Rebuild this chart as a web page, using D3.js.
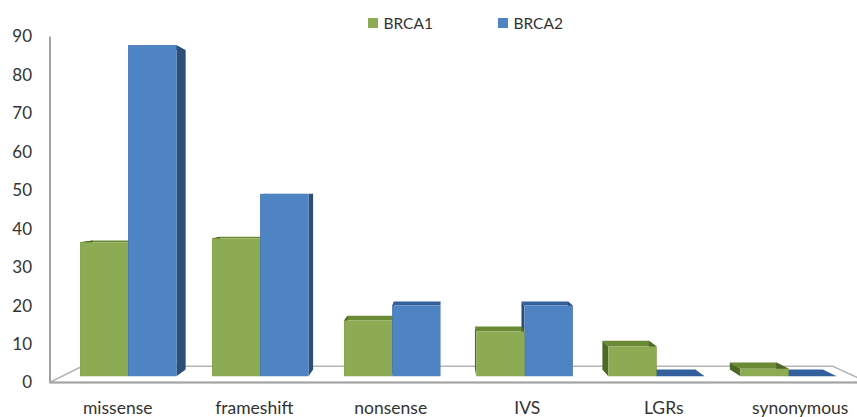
<!DOCTYPE html>
<html><head><meta charset="utf-8">
<script src="https://cdn.jsdelivr.net/npm/d3@7"></script>
<style>
body{margin:0;background:#fff}
svg{display:block}
text{font-family:Lato,"Liberation Sans",sans-serif;fill:#333}
</style>
</head><body>
<svg id="c" width="857" height="417"></svg>
<script>
// ---- data ----
const categories = ["missense","frameshift","nonsense","IVS","LGRs","synonymous"];
const seriesNames = ["BRCA1","BRCA2"];
const brca1 = [36,37,15,12,8,2];
const brca2 = [89,49,19,19,0,0];
const yTicks = [0,10,20,30,40,50,60,70,80,90];

// ---- styles ----
const palette = {
  BRCA1:{front:"#8dab52", top:"#6b8a36", side:"#4e6826", legend:"#8dab52"},
  BRCA2:{front:"#4f84c4", top:"#33609c", side:"#2e4e7a", legend:"#4f84c4"}
};

const svg = d3.select("#c");

const x = d3.scaleBand().domain(categories).range([49.5,868.5]).paddingInner(0.27).paddingOuter(0.135);
const xs = d3.scaleBand().domain(seriesNames).range([0,x.bandwidth()]);
const y = d3.scaleLinear().domain([0,90]).range([382.5,36.5]);

// simple perspective
const VP = [440,188], K = 0.0835, ZF = 0.39, ZB = 0.795;
const proj = (px,py,z)=>{const s=1-K*z;return [VP[0]+(px-VP[0])*s, VP[1]+(py-VP[1])*s];};
const pts = a => a.map(p=>p.join(",")).join(" ");

// floor
const fx0 = x.range()[0], fx1 = x.range()[1], fy = y(0);
svg.append("polygon")
  .attr("points", pts([proj(fx0,fy,0),proj(fx1,fy,0),proj(fx1,fy,1),proj(fx0,fy,1)]))
  .attr("fill","#fff").attr("stroke","#b5b5b5").attr("stroke-width",1.6);
const f0 = proj(fx0,fy,0), f1 = proj(fx1,fy,0);
svg.append("line").attr("x1",f0[0]).attr("y1",f0[1]).attr("x2",f1[0]).attr("y2",f1[1])
  .attr("stroke","#a3a3a3").attr("stroke-width",2.2);

// bars
const bars = [];
categories.forEach((c,i)=>{
  [[ "BRCA1", brca1[i] ], [ "BRCA2", brca2[i] ]].forEach(([s,v])=>{
    const x0 = x(c)+xs(s), x1 = x0+xs.bandwidth();
    bars.push({c,s,v,x0,x1,yT:y(v),yB:y(0)});
  });
});
bars.forEach(b=>{ b.dist = Math.abs(proj((b.x0+b.x1)/2,0,ZF)[0]-VP[0]); });
bars.sort((a,b)=>b.dist-a.dist);

const gBars = svg.append("g");
bars.forEach(b=>{
  const g = gBars.append("g");
  const col = palette[b.s];
  const {x0,x1,yT,yB} = b;
  g.append("polygon").attr("points",pts([proj(x0,yT,ZF),proj(x1,yT,ZF),proj(x1,yT,ZB),proj(x0,yT,ZB)])).attr("fill",col.top);
  g.append("polygon").attr("points",pts([proj(x0,yT,ZF),proj(x0,yT,ZB),proj(x0,yB,ZB),proj(x0,yB,ZF)])).attr("fill",col.side);
  g.append("polygon").attr("points",pts([proj(x1,yT,ZF),proj(x1,yT,ZB),proj(x1,yB,ZB),proj(x1,yB,ZF)])).attr("fill",col.side);
  if (b.v>0) g.append("polygon").attr("points",pts([proj(x0,yT,ZF),proj(x1,yT,ZF),proj(x1,yB,ZF),proj(x0,yB,ZF)])).attr("fill",col.front);
});

// y axis
const ax = svg.append("g").attr("transform","translate(50,0)")
  .call(d3.axisLeft(y).tickValues(yTicks).tickSize(0).tickPadding(18));
ax.select(".domain").remove();
ax.selectAll("text").style("font-size","17px").style("font-family","Lato, 'Liberation Sans', sans-serif").attr("fill","#333");
svg.append("line").attr("x1",50).attr("x2",50).attr("y1",y(0)).attr("y2",y(90))
  .attr("stroke","#a3a3a3").attr("stroke-width",2);

// x labels
svg.append("g").selectAll("text").data(categories).join("text")
  .attr("x",d=>x(d)+x.bandwidth()/2).attr("y",414)
  .attr("text-anchor","middle").style("font-size","17.5px").text(d=>d);

// legend
const legendPos = [368,498];
const lg = svg.append("g");
seriesNames.forEach((s,i)=>{
  lg.append("rect").attr("x",legendPos[i]).attr("y",18).attr("width",10).attr("height",10).attr("fill",palette[s].legend);
  lg.append("text").attr("x",legendPos[i]+15.5).attr("y",28.5).style("font-size","15.5px").text(s);
});
</script>
</body></html>
